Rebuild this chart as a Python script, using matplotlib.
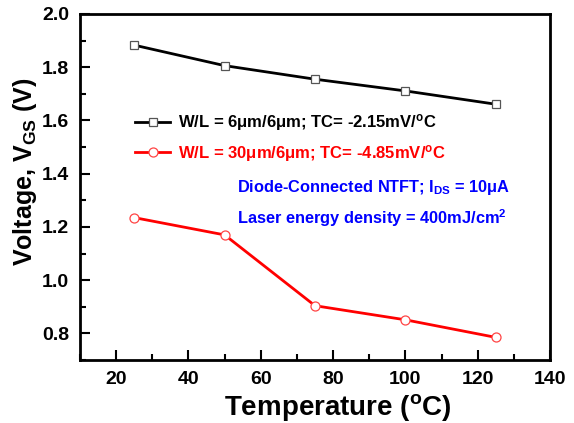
import matplotlib
matplotlib.use("Agg")
import matplotlib.pyplot as plt
from matplotlib.ticker import MultipleLocator

# ===== Data =====
temperature = [25, 50, 75, 100, 125]
vgs_6um = [1.883, 1.806, 1.755, 1.711, 1.661]
vgs_30um = [1.235, 1.170, 0.904, 0.851, 0.785]

label_6um = "W/L = 6\u03bcm/6\u03bcm; TC= -2.15mV/$^{o}$C"
label_30um = "W/L = 30\u03bcm/6\u03bcm; TC= -4.85mV/$^{o}$C"
note_lines = [
    "Diode-Connected NTFT; I$_{DS}$ = 10\u03bcA",
    "Laser energy density = 400mJ/cm$^{2}$",
]

plt.rcParams["font.family"] = ["Liberation Sans", "DejaVu Sans"]
plt.rcParams["font.weight"] = "bold"
plt.rcParams["axes.labelweight"] = "bold"
plt.rcParams["mathtext.fontset"] = "custom"
plt.rcParams["mathtext.rm"] = "Liberation Sans:bold"
plt.rcParams["mathtext.it"] = "Liberation Sans:bold"
plt.rcParams["mathtext.bf"] = "Liberation Sans:bold"
plt.rcParams["mathtext.default"] = "rm"

fig = plt.figure(figsize=(5.74, 4.23), dpi=100)
ax = fig.add_axes([80 / 574, 1 - 360 / 423, 470 / 574, 346 / 423])

ax.plot(temperature, vgs_6um, color="black", lw=2, marker="s", ms=6,
        mfc="white", mec="#555555", mew=0.9, label=label_6um)
ax.plot(temperature, vgs_30um, color="red", lw=2, marker="o", ms=6.5,
        mfc="white", mec="#ff4444", mew=0.9, label=label_30um)

ax.set_xlim(10, 140)
ax.set_ylim(0.7, 2.0)
ax.xaxis.set_major_locator(MultipleLocator(20))
ax.xaxis.set_minor_locator(MultipleLocator(10))
ax.yaxis.set_major_locator(MultipleLocator(0.2))
ax.yaxis.set_minor_locator(MultipleLocator(0.1))
ax.tick_params(which="both", direction="in", top=False, right=False,
               width=1.5, labelsize=14)
ax.tick_params(which="major", length=7, pad=8)
ax.tick_params(which="minor", length=4)
ax.set_xticks([20, 40, 60, 80, 100, 120, 140])
ax.set_yticks([0.8, 1.0, 1.2, 1.4, 1.6, 1.8, 2.0])
ax.set_yticklabels(["0.8", "1.0", "1.2", "1.4", "1.6", "1.8", "2.0"])
for lbl in ax.get_xticklabels() + ax.get_yticklabels():
    lbl.set_fontweight("bold")
for s in ax.spines.values():
    s.set_linewidth(2)

ax.set_xlabel("Temperature ($^{o}$C)", fontsize=20, fontweight="bold", labelpad=3)
ax.set_ylabel("Voltage, V$_{GS}$ (V)", fontsize=18, fontweight="bold", labelpad=2)
ax.xaxis.label.set_x(0.549)
ax.yaxis.label.set_y(0.543)

leg = ax.legend(loc="upper left", bbox_to_anchor=(0.103, 0.735), frameon=False,
                fontsize=12, handlelength=2.1, handletextpad=0.5,
                labelspacing=0.55, borderaxespad=0)
for txt, line in zip(leg.get_texts(), leg.get_lines()):
    txt.set_color(line.get_color())

ax.text(0.333, 0.498, note_lines[0], transform=ax.transAxes, color="blue",
        fontsize=11.8, va="center")
ax.text(0.333, 0.41, note_lines[1], transform=ax.transAxes, color="blue",
        fontsize=11.8, va="center")

fig.savefig("out.png", dpi=100)
